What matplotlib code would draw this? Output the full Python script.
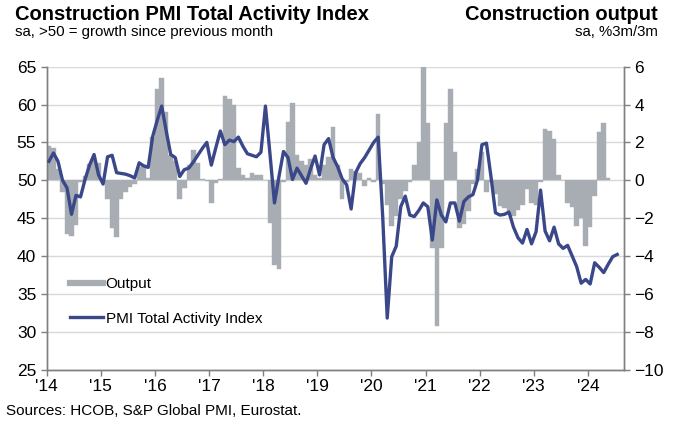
import numpy as np
import matplotlib
matplotlib.use('Agg')
import matplotlib.pyplot as plt
from matplotlib.lines import Line2D

plt.rcParams['font.family'] = ['Liberation Sans', 'DejaVu Sans']

# Construction PMI Total Activity Index, monthly from Jan 2014 (left axis)
pmi = [52.5, 53.6, 52.5, 50.0, 49.0, 45.5, 48.0, 47.8, 50.1, 52.0, 53.4, 50.7,
       49.5, 53.1, 53.3, 51.0, 50.9, 50.8, 50.6, 50.3, 52.3, 51.9, 51.7, 55.8,
       57.9, 59.8, 56.5, 53.4, 53.0, 50.5, 51.4, 51.6, 52.4, 53.3, 54.2, 55.0,
       52.0, 54.3, 56.5, 54.7, 55.3, 55.1, 55.7, 54.5, 53.5, 53.3, 53.1, 53.7,
       59.8, 53.5, 47.0, 50.5, 53.8, 53.0, 50.1, 51.6, 50.6, 49.6, 51.5, 53.2,
       50.7, 54.7, 55.5, 53.0, 51.8, 50.2, 49.4, 46.2, 51.0, 52.2, 53.0, 54.0,
       55.0, 55.7, 45.2, 31.8, 39.9, 41.3, 46.5, 47.9, 45.4, 45.2, 46.0, 47.0,
       46.5, 42.1, 47.4, 45.4, 44.5, 47.0, 47.0, 44.6, 47.2, 47.8, 48.1, 50.0,
       54.7, 54.9, 50.5, 45.7, 45.4, 45.5, 45.8, 43.8, 42.4, 41.7, 43.5, 41.6,
       43.2, 48.7, 43.3, 42.0, 43.8, 41.6, 41.0, 41.4, 40.0, 38.6, 36.4, 36.9,
       36.3, 39.1, 38.5, 37.8, 38.9, 39.9, 40.2]

# Construction output, sa %3m/3m, monthly from Jan 2014 (right axis)
output = [1.8, 1.7, 0.6, -0.6, -2.85, -2.95, -2.35, -0.1, 0.2, 0.85, 1.1, 0.9,
          -0.1, -1.0, -2.5, -3.0, -1.0, -0.6, -0.35, -0.2, 0.7, 0.8, 0.1, 2.3,
          4.8, 5.4, 3.6, 1.35, 1.0, -1.0, -0.4, 0.8, 1.6, 0.9, 0.05, -0.05,
          -1.2, -0.15, 0.05, 4.45, 4.3, 4.0, 0.65, 0.3, 0.1, 0.4, 0.3, 0.3,
          0.0, -2.25, -4.5, -4.7, -0.1, 3.1, 4.1, 1.35, 1.0, 0.8, 1.1, 0.3,
          0.1, 0.8, 1.25, 2.8, 0.8, -1.0, -0.1, 0.6, 0.5, 0.4, -0.3, 0.1,
          -0.1, 3.5, -0.2, -1.3, -2.4, -1.9, -1.0, -0.55, -0.1, 0.8, 2.0, 6.3,
          3.05, -3.6, -7.7, -3.6, 3.05, 4.8, 1.5, -2.5, -2.3, -1.6, -0.2, 0.6,
          1.5, -0.6, -0.1, -0.75, -1.35, -1.45, -1.6, -1.9, -1.55, -1.3, -0.45, -1.2,
          -1.3, -0.1, 2.7, 2.6, 2.2, 0.3, 0.03, -1.2, -1.4, -2.4, -2.0, -3.5,
          -2.45, -0.85, 2.55, 3.05, 0.12]

year_ticks = list(range(0, 121, 12))
year_labels = ["'14", "'15", "'16", "'17", "'18", "'19", "'20", "'21", "'22", "'23", "'24"]

bar_col = '#a7adb3'
line_col = '#3a4889'
axis_col = '#7f7f7f'

fig = plt.figure(figsize=(6.74, 4.36), dpi=100)
ax = fig.add_axes([46.7/674, 1-369.5/436, 577.3/674, 302.8/436])

# Bars on the right-hand scale
ax.bar(np.arange(len(output)) + 0.5, output, width=1.0, color=bar_col,
       edgecolor=bar_col, linewidth=0.3, zorder=2)
ax.set_ylim(-10, 6)
ax.set_yticks(range(-10, 7, 2))
ax.grid(axis='y', color='#d9d9d9', linewidth=1)
ax.set_axisbelow(True)
ax.set_xlim(0, 128)
ax.set_xticks(year_ticks)
ax.set_xticklabels(year_labels)

# PMI line on the left-hand scale
ax2 = ax.twinx()
ax2.plot(np.arange(len(pmi)) + 0.5, pmi, color=line_col, linewidth=2.4, zorder=3)
ax2.set_ylim(25, 65)
ax2.set_yticks(range(25, 66, 5))

# twinx puts the first axis on the left, so swap the sides here
ax.yaxis.tick_right()
ax2.yaxis.tick_left()

for a in (ax, ax2):
    a.spines['top'].set_visible(False)
    for s in ('left', 'right', 'bottom'):
        a.spines[s].set_color(axis_col)
        a.spines[s].set_linewidth(1)
    a.tick_params(colors=axis_col, labelcolor='black', labelsize=12.5,
                  length=4, width=1, direction='out')
ax.tick_params(axis='x', pad=3)

# Legend
handles = [Line2D([], [], color=bar_col, linewidth=4.5),
           Line2D([], [], color=line_col, linewidth=2.4)]
ax2.legend(handles, ['Output', 'PMI Total Activity Index'], loc='upper left',
           bbox_to_anchor=(0.04, 0.305), frameon=False, fontsize=11,
           handlelength=2.2, handletextpad=0.15, labelspacing=1.35,
           borderaxespad=0, borderpad=0)

# Titles
fig.text(15/674, 1-5/436, 'Construction PMI Total Activity Index', fontsize=14.5,
         fontweight='bold', ha='left', va='top')
fig.text(15/674, 1-25/436, 'sa, >50 = growth since previous month', fontsize=10.8,
         ha='left', va='top')
fig.text(658/674, 1-5/436, 'Construction output', fontsize=14.5,
         fontweight='bold', ha='right', va='top')
fig.text(658/674, 1-25/436, 'sa, %3m/3m', fontsize=10.8, ha='right', va='top')
fig.text(6/674, 1-411/436, 'Sources: HCOB, S&P Global PMI, Eurostat.', fontsize=11,
         ha='left', va='center')

fig.savefig('out.png', dpi=100)
